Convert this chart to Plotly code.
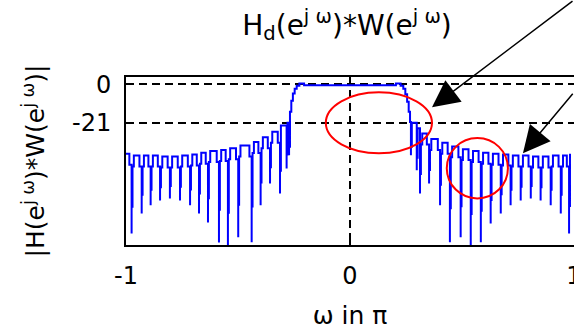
import plotly.graph_objects as go

# ---------------- data ----------------
# frequency axis in units of pi, magnitude in dB
left_null_x = [-0.975, -0.930, -0.890, -0.848, -0.804, -0.759, -0.714, -0.674, -0.634,
               -0.585, -0.545, -0.499, -0.439, -0.399, -0.357, -0.3125, -0.283, -0.272]
left_null_db = [-81.7, -70.7, -66.3, -63.6, -62.5, -63.6, -66.3, -70.7, -75.7,
                -86.6, -90.0, -83.7, -86.5, -66.3, -54.3, -59.8, -46.1, -38.9]
# top of the lobe that ends at each left null
left_top_db = [-38.0, -39.0, -39.0, -39.0, -39.5, -39.5, -39.0, -38.5, -37.5,
               -36.5, -36.0, -35.0, -33.5, -31.6, -29.0, -26.0, -22.5, -21.0]

pass_x = [-0.268, -0.262, -0.255, -0.247, -0.238, -0.226, -0.205,
          0.205, 0.226, 0.238, 0.247, 0.255, 0.262, 0.268]
pass_db = [-15.0, -9.0, -5.0, -2.5, -0.8, 0.4, -0.5,
           0.4, -0.8, -2.5, -5.5, -9.5, -15.0, -20.7]

right_null_x = [0.272, 0.298, 0.3125, 0.353, 0.402, 0.446, 0.494, 0.539, 0.584,
                0.628, 0.673, 0.717, 0.762, 0.807, 0.851, 0.896, 0.941, 0.978]
right_null_db = [-38.9, -47.1, -59.8, -54.3, -66.3, -86.5, -83.7, -90.0, -86.5,
                 -76.2, -70.7, -66.3, -63.6, -62.5, -63.6, -66.3, -70.7, -81.7]
# top of the lobe that starts at each right null
right_top_db = [-21.0, -24.0, -27.0, -30.0, -32.0, -34.0, -35.5, -36.5, -37.5,
                -38.0, -38.5, -39.0, -39.0, -39.5, -39.5, -39.0, -39.0, -38.0]

x_tick_vals = [-1, 0, 1]
x_tick_text = ["-1", "0", "1"]
y_tick_vals = [0, -21]
y_tick_text = ["0", "-21"]

# ---------------- build the stair-step trace ----------------
NOTCH = 6.0      # depth of the small notch beside each null
EPS_A, EPS_B = 0.004, 0.010
MID = 0.6        # where the thick part of a null's stroke ends

xs, ys = [], []


def add_null(xn, dn, shoulder):
    """Deep null: single thin stroke to the bottom, thicker part near the top."""
    xs.append(xn); ys.append(dn)
    if dn < shoulder - 10:
        xs.append(xn); ys.append(shoulder + MID * (dn - shoulder))


# left stopband
for i, (xn, dn, tp) in enumerate(zip(left_null_x, left_null_db, left_top_db)):
    start = -1.0 if i == 0 else left_null_x[i - 1]
    if i == 0:
        xs += [start, xn - EPS_B]; ys += [tp, tp - NOTCH]
    elif xn - start >= 0.03:
        xs += [start + EPS_A, start + EPS_B, xn - EPS_B]
        ys += [tp - NOTCH, tp, tp - NOTCH]
    else:
        xs += [start + EPS_A]; ys += [tp]
    nxt = left_top_db[i + 1] if i + 1 < len(left_top_db) else tp
    add_null(xn, dn, nxt - NOTCH)
# passband
xs += pass_x; ys += pass_db
# right stopband
for i, (xn, dn, tp) in enumerate(zip(right_null_x, right_null_db, right_top_db)):
    add_null(xn, dn, tp - NOTCH)
    end = right_null_x[i + 1] if i + 1 < len(right_null_x) else 1.0
    if end - xn >= 0.03:
        xs += [xn + EPS_A, xn + EPS_B]
        ys += [tp - NOTCH, tp]
        if i + 1 < len(right_null_x):
            xs.append(end - EPS_B); ys.append(tp - NOTCH)
        else:
            xs.append(end); ys.append(tp)
    else:
        xs += [xn + EPS_A]; ys += [tp]

fig = go.Figure()
fig.add_trace(go.Scatter(x=xs, y=ys, mode="lines", line_shape="hv",
                         line=dict(color="#0000FF", width=2),
                         hoverinfo="skip", showlegend=False))

FONT = "DejaVu Sans"
fig.update_layout(
    width=574, height=330,
    margin=dict(l=126, r=0, t=77, b=85),
    paper_bgcolor="white", plot_bgcolor="white",
    font=dict(family=FONT, size=24, color="black"),
    title=dict(text="H<sub>d</sub>(e<sup>j ω</sup>)*W(e<sup>j ω</sup>)",
               font=dict(family=FONT, size=28, color="black"),
               x=0.6045, xref="container", xanchor="center",
               y=0.925, yref="container", yanchor="middle"),
    showlegend=False,
)
fig.update_xaxes(range=[-1, 1], tickvals=x_tick_vals, ticktext=x_tick_text,
                 showline=True, linecolor="black", linewidth=2, mirror="ticks",
                 ticks="inside", ticklen=5, tickcolor="black", tickwidth=1.5,
                 showgrid=True, gridcolor="black", gridwidth=1.5, griddash="8px,5px",
                 zeroline=False, ticklabelstandoff=8, ticklabeloverflow="allow",
                 automargin=False,
                 title=dict(text="ω in π", font=dict(family=FONT, size=25), standoff=24))
fig.update_yaxes(range=[-88, 4], tickvals=y_tick_vals, ticktext=y_tick_text,
                 showline=True, linecolor="black", linewidth=2, mirror="ticks",
                 ticks="inside", ticklen=5, tickcolor="black", tickwidth=1.5,
                 showgrid=True, gridcolor="black", gridwidth=1.5, griddash="8px,5px",
                 zeroline=False, ticklabelstandoff=8, automargin=False,
                 title=dict(text="|H(e<sup>j ω</sup>)*W(e<sup>j ω</sup>)|",
                            font=dict(family=FONT, size=25), standoff=20))

# red ellipses highlighting regions (data coordinates)
fig.add_shape(type="circle", xref="x", yref="y", x0=-0.108, x1=0.366, y0=-37.8, y1=-4.4,
              line=dict(color="#FF0000", width=2))
fig.add_shape(type="circle", xref="x", yref="y", x0=0.432, x1=0.705, y0=-62.5, y1=-29.4,
              line=dict(color="#FF0000", width=2))

# black arrows coming from outside the picture
fig.add_annotation(x=0.366, y=-12.6, xref="x", yref="y", text="", showarrow=True,
                   ax=145, ay=-118, arrowhead=2, arrowsize=3.6, arrowwidth=1.5,
                   arrowcolor="black")
fig.add_annotation(x=0.772, y=-37.8, xref="x", yref="y", text="", showarrow=True,
                   ax=100, ay=-61, arrowhead=2, arrowsize=3.6, arrowwidth=1.5,
                   arrowcolor="black")

fig.write_html("out.html")
